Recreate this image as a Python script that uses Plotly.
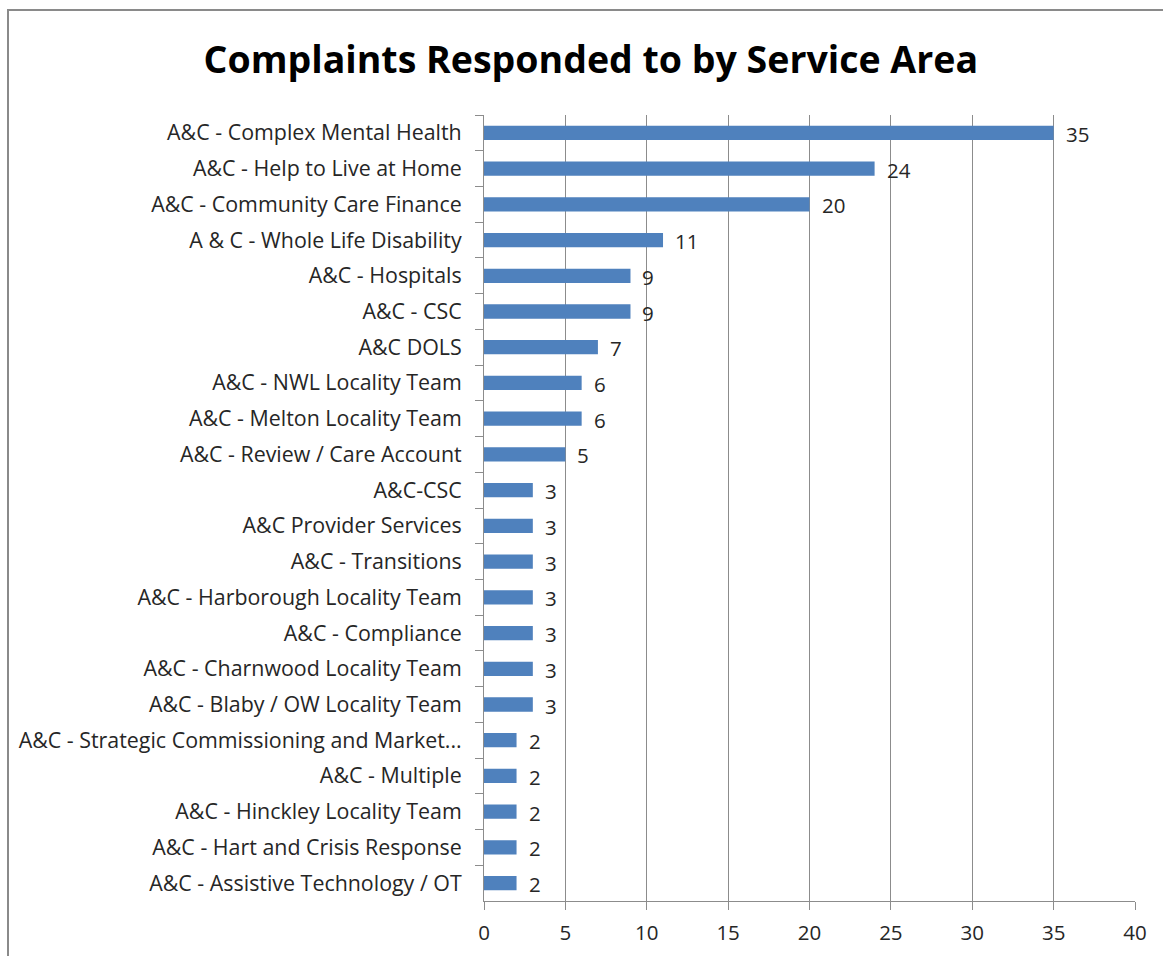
import plotly.graph_objects as go

# Service areas, top to bottom, with the number of complaints responded to
service_areas = [
    "A&C - Complex Mental Health",
    "A&C - Help to Live at Home",
    "A&C - Community Care Finance",
    "A & C - Whole Life Disability",
    "A&C - Hospitals",
    "A&C - CSC",
    "A&C DOLS",
    "A&C - NWL Locality Team",
    "A&C - Melton Locality Team",
    "A&C - Review / Care Account",
    "A&C-CSC",
    "A&C Provider Services",
    "A&C - Transitions",
    "A&C - Harborough Locality Team",
    "A&C - Compliance",
    "A&C - Charnwood Locality Team",
    "A&C - Blaby / OW Locality Team",
    "A&C - Strategic Commissioning and Market...",
    "A&C - Multiple",
    "A&C - Hinckley Locality Team",
    "A&C - Hart and Crisis Response",
    "A&C - Assistive Technology / OT",
]
complaints = [35, 24, 20, 11, 9, 9, 7, 6, 6, 5, 3, 3, 3, 3, 3, 3, 3, 2, 2, 2, 2, 2]
x_ticks = [0, 5, 10, 15, 20, 25, 30, 35, 40]

FONT = "'Open Sans', Lato, sans-serif"
BAR = "#4f81bd"
GRID = "#8c8c8c"
TXT = "#262626"

W, H = 1163, 956
L, R, T, B = 484, 28, 115, 55
pw, ph = W - L - R, H - T - B

fig = go.Figure()
fig.add_trace(go.Bar(
    y=service_areas,
    x=complaints,
    orientation="h",
    width=0.4,
    marker=dict(color=BAR, line=dict(width=0)),
    hoverinfo="x+y",
))

# value labels to the right of each bar
for name, v in zip(service_areas, complaints):
    fig.add_annotation(
        x=v, y=name, text=str(v), showarrow=False,
        xanchor="left", yanchor="middle", xshift=10, yshift=-1,
        font=dict(family=FONT, size=20.5, color=TXT),
    )

# outer chart frame
fig.add_shape(
    type="rect", xref="paper", yref="paper",
    x0=(8 - L) / pw, x1=(W + 10 - L) / pw,
    y0=-(H + 10 - (T + ph)) / ph, y1=1 + (T - 10) / ph,
    line=dict(color="#8a8a8a", width=2), fillcolor="rgba(0,0,0,0)", layer="below",
)

fig.update_layout(
    width=W, height=H,
    margin=dict(l=L, r=R, t=T, b=B, pad=0, autoexpand=False),
    paper_bgcolor="white", plot_bgcolor="white",
    showlegend=False,
    bargap=0.6,
    title=dict(
        text="<b>Complaints Responded to by Service Area</b>",
        x=0.508, xanchor="center", y=1 - 60 / H, yanchor="middle",
        font=dict(family=FONT, size=37.5, color="black"),
    ),
    font=dict(family=FONT, size=20, color=TXT),
)
fig.update_xaxes(
    range=[0, 40], tickvals=x_ticks, ticktext=[str(t) for t in x_ticks],
    showgrid=True, gridcolor=GRID, gridwidth=1,
    showline=True, linecolor=GRID, linewidth=1,
    ticks="outside", ticklen=8, tickcolor=GRID,
    zeroline=False, ticklabelstandoff=5, automargin=False,
    tickfont=dict(family=FONT, size=20.5, color=TXT),
)
fig.update_yaxes(
    categoryorder="array", categoryarray=service_areas, autorange="reversed",
    showgrid=False, showline=True, linecolor=GRID, linewidth=1,
    ticks="outside", ticklen=8, tickcolor=GRID, tickson="boundaries",
    ticklabelstandoff=17, automargin=False,
    tickfont=dict(family=FONT, size=21.4, color=TXT),
)

fig.write_html("out.html")
